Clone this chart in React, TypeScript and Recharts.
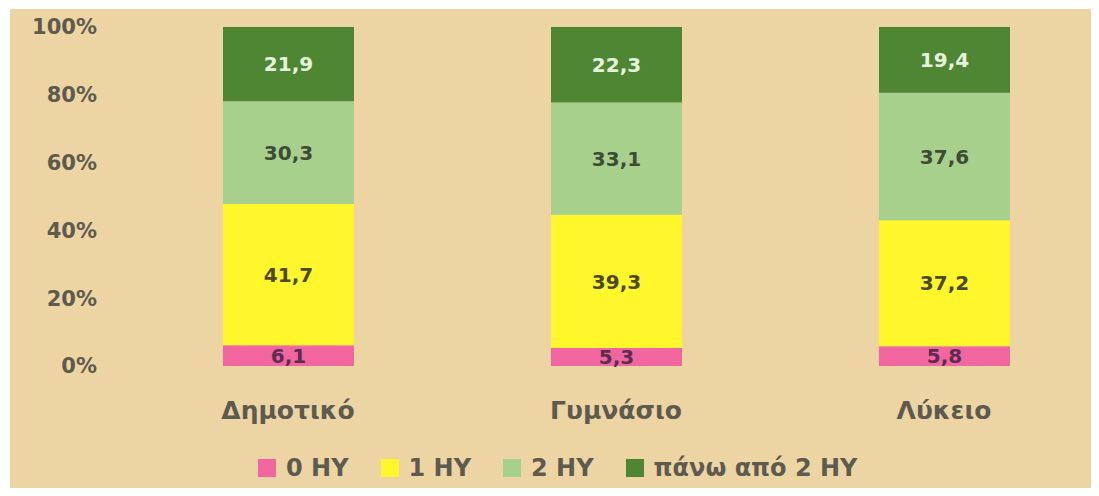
import { BarChart, Bar, XAxis, YAxis, Legend, LabelList } from 'recharts'

const levels = ['Δημοτικό', 'Γυμνάσιο', 'Λύκειο']
const zero = [6.1, 5.3, 5.8]
const one = [41.7, 39.3, 37.2]
const two = [30.3, 33.1, 37.6]
const more = [21.9, 22.3, 19.4]
const yTicks = [0, 20, 40, 60, 80, 100]

const series = [
  { key: 'zero', name: '0 HY', fill: '#F2669F', label: '#5b2e4f' },
  { key: 'one', name: '1 HY', fill: '#FFF62C', label: '#4b4a23' },
  { key: 'two', name: '2 HY', fill: '#A8D08D', label: '#3c4c35' },
  { key: 'more', name: 'πάνω από 2 HY', fill: '#4E8634', label: '#E6F3DC' },
]

const data = levels.map((level, i) => ({
  level,
  zero: zero[i],
  one: one[i],
  two: two[i],
  more: more[i],
}))

const font = '"DejaVu Sans", sans-serif'
const textGray = '#5d5a4f'

const fmt = (v: number) => v.toFixed(1).replace('.', ',')

function LegendRow() {
  return (
    <div style={{ display: 'flex', alignItems: 'center', height: 26, fontFamily: font, fontWeight: 700, fontSize: 24, color: textGray, whiteSpace: 'nowrap' }}>
      {series.map((s) => (
        <div key={s.key} style={{ display: 'flex', alignItems: 'center', marginRight: 32 }}>
          <span style={{ display: 'inline-block', width: 18, height: 18, background: s.fill, marginRight: 10 }} />
          <span>{s.name}</span>
        </div>
      ))}
    </div>
  )
}

export default function App() {
  return (
    <div style={{ position: 'relative', width: 1099, height: 496, margin: -8, overflow: 'hidden', background: '#fff' }}>
      <div style={{ position: 'absolute', left: 10, top: 9, width: 1089, height: 487, background: '#EDD5A3' }} />
      <div style={{ position: 'absolute', left: 0, top: 0 }}>
        <BarChart width={1110} height={496} data={data} margin={{ top: 27, right: 2, left: 24, bottom: 70 }}>
          <XAxis
            dataKey="level"
            axisLine={false}
            tickLine={false}
            tickSize={0}
            tickMargin={35}
            height={60}
            tick={{ fontSize: 25, fontWeight: 700, fill: textGray, fontFamily: font }}
          />
          <YAxis
            domain={[0, 100]}
            ticks={yTicks}
            tickFormatter={(v: number) => `${v}%`}
            axisLine={false}
            tickLine={false}
            tickSize={0}
            tickMargin={27}
            width={100}
            tick={{ fontSize: 21, fontWeight: 700, fill: textGray, fontFamily: font }}
          />
          <Legend
            layout="horizontal"
            verticalAlign="middle"
            align="center"
            wrapperStyle={{ top: 455, left: 258, width: 800 }}
            content={() => <LegendRow />}
          />
          {series.map((s) => (
            <Bar key={s.key} dataKey={s.key} name={s.name} stackId="a" fill={s.fill} barSize={131} isAnimationActive={false}>
              <LabelList
                dataKey={s.key}
                position="center"
                formatter={(v: number) => fmt(v)}
                style={{ fontSize: 20, fontWeight: 700, fill: s.label, fontFamily: font }}
              />
            </Bar>
          ))}
        </BarChart>
      </div>
    </div>
  )
}
